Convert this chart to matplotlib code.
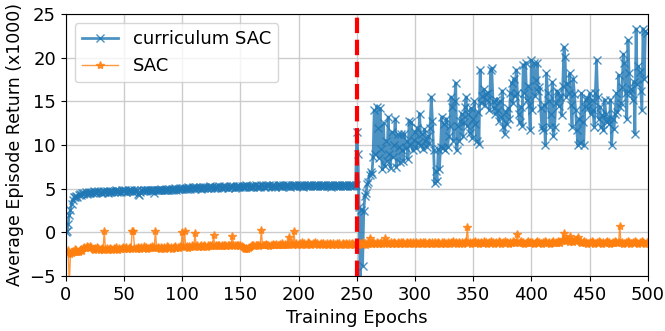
import numpy as np
import matplotlib
matplotlib.use("Agg")
import matplotlib.pyplot as plt

# epochs 0..499
epochs = np.arange(500)

# curriculum SAC average return (x1000)
curriculum_sac = [
    0.0, 0.1, 1.0, 2.0, 2.6, 3.3, 3.7, 4.0, 4.1, 4.2,
    4.1, 4.3, 4.4, 4.3, 4.5, 4.4, 4.5, 4.6, 4.4, 4.5,
    4.6, 4.5, 4.6, 4.5, 4.7, 4.6, 4.5, 4.6, 4.7, 4.6,
    4.6, 4.5, 4.7, 4.6, 4.6, 4.7, 4.5, 4.6, 4.7, 4.6,
    4.7, 4.6, 4.7, 4.8, 4.6, 4.7, 4.7, 4.6, 4.8, 4.7,
    4.7, 4.8, 4.6, 4.7, 4.8, 4.7, 4.8, 4.7, 4.6, 4.8,
    4.7, 4.8, 4.4, 4.3, 4.6, 4.8, 4.7, 4.8, 4.9, 4.7,
    4.8, 4.9, 4.8, 4.7, 4.9, 4.8, 4.5, 4.9, 4.8, 4.9,
    4.8, 4.9, 5.0, 4.8, 4.9, 4.9, 5.0, 4.8, 4.9, 5.0,
    4.9, 5.0, 4.9, 5.0, 5.1, 4.9, 5.0, 5.0, 5.1, 5.0,
    5.0, 5.1, 5.0, 5.1, 5.0, 5.2, 5.1, 5.0, 5.1, 5.2,
    5.1, 5.0, 5.2, 5.1, 5.1, 5.2, 5.0, 5.1, 5.2, 5.1,
    5.2, 5.1, 5.1, 5.2, 5.3, 5.1, 5.2, 5.1, 5.2, 5.2,
    5.1, 5.2, 5.3, 5.2, 5.1, 5.2, 5.3, 5.2, 5.2, 5.1,
    5.2, 5.3, 5.2, 5.2, 5.3, 5.1, 5.2, 5.3, 5.2, 5.3,
    5.2, 5.3, 5.2, 5.3, 5.2, 5.4, 5.3, 5.2, 5.3, 5.2,
    5.3, 5.2, 5.3, 5.4, 5.2, 5.3, 5.3, 5.2, 5.4, 5.3,
    5.3, 5.2, 5.4, 5.3, 5.3, 5.4, 5.2, 5.3, 5.4, 5.3,
    5.2, 5.3, 5.4, 5.3, 5.4, 5.3, 5.2, 5.4, 5.3, 5.4,
    5.3, 5.4, 5.3, 5.2, 5.4, 5.3, 5.4, 5.3, 5.4, 5.3,
    5.4, 5.3, 5.4, 5.3, 5.2, 5.4, 5.3, 5.4, 5.3, 5.4,
    5.3, 5.4, 5.3, 5.4, 5.3, 5.4, 5.3, 5.4, 5.3, 5.4,
    5.3, 5.4, 5.3, 5.4, 5.3, 5.4, 5.3, 5.4, 5.2, 5.4,
    5.3, 5.4, 5.3, 5.4, 5.3, 5.4, 5.3, 5.4, 5.3, 5.4,
    5.3, 5.4, 5.3, 5.4, 5.3, 5.4, 5.3, 5.4, 5.3, 5.4,
    11.5, 9.0, 2.9, -6.5, 2.6, -3.8, 2.5, 4.2, 4.5, 5.5,
    5.8, 6.6, 6.9, 6.7, 8.6, 14.0, 9.0, 14.4, 12.0, 8.5,
    14.2, 9.5, 7.2, 12.5, 7.6, 10.5, 8.2, 13.2, 9.0, 7.4,
    11.5, 8.6, 10.0, 13.0, 7.5, 11.2, 9.8, 8.0, 11.3, 9.4,
    8.2, 11.3, 9.6, 10.4, 8.4, 12.8, 10.0, 12.6, 9.4, 10.6,
    11.5, 9.6, 12.0, 10.2, 13.6, 10.0, 11.2, 9.5, 11.8, 10.4,
    9.8, 11.0, 10.2, 12.0, 15.5, 12.8, 9.4, 5.6, 7.0, 5.9,
    9.5, 7.2, 9.8, 13.2, 9.6, 12.4, 9.4, 13.0, 9.8, 11.0,
    12.2, 15.5, 14.4, 10.5, 15.0, 17.1, 9.4, 12.2, 10.5, 12.8,
    13.6, 11.0, 12.6, 14.4, 15.5, 12.2, 13.5, 11.4, 14.2, 10.8,
    13.0, 15.0, 12.4, 10.5, 13.8, 10.1, 18.6, 14.8, 15.6, 16.4,
    14.6, 15.8, 15.2, 16.0, 14.0, 18.6, 18.8, 15.0, 14.2, 13.6,
    15.2, 14.0, 12.8, 15.0, 13.2, 16.2, 12.1, 11.3, 13.8, 12.4,
    14.2, 13.0, 15.9, 17.1, 14.8, 17.6, 15.6, 18.6, 16.0, 13.6,
    12.6, 14.4, 12.2, 19.2, 16.0, 19.4, 15.2, 16.8, 14.6, 11.7,
    19.7, 14.0, 19.4, 15.6, 17.4, 19.4, 16.2, 16.6, 14.2, 12.1,
    11.7, 14.6, 10.0, 18.2, 16.0, 15.0, 12.1, 13.6, 17.2, 11.0,
    12.1, 14.8, 16.2, 16.0, 14.5, 15.5, 13.4, 16.8, 21.2, 20.1,
    15.5, 17.0, 16.0, 18.2, 14.6, 12.1, 17.6, 15.8, 14.0, 11.7,
    10.0, 13.0, 10.2, 15.9, 12.6, 10.0, 14.4, 15.2, 15.4, 14.2,
    15.9, 13.6, 15.2, 14.0, 12.1, 16.0, 19.7, 15.5, 13.0, 14.4,
    12.1, 13.4, 11.7, 15.2, 13.6, 12.6, 13.0, 12.4, 15.2, 10.0,
    13.0, 11.8, 13.6, 15.9, 13.8, 18.0, 14.4, 14.8, 16.6, 20.4,
    19.4, 16.0, 13.0, 22.0, 18.2, 16.0, 16.4, 15.2, 17.2, 11.3,
    23.3, 17.0, 19.0, 18.4, 16.2, 14.0, 23.3, 17.6, 23.0, 22.8,
]

# plain SAC average return (x1000)
sac = [
    -2.2, -2.3, -2.0, -6.0, -2.5, -2.4, -2.1, -2.2, -1.9, -2.0,
    -2.2, -2.3, -2.0, -1.9, -2.1, -1.8, -1.7, -1.8, -1.6, -1.7,
    -1.8, -1.6, -1.7, -1.9, -2.0, -1.8, -1.9, -1.7, -1.8, -2.0,
    -1.9, -1.8, -2.0, 0.2, -1.9, -1.8, -2.0, -1.9, -1.8, -1.9,
    -2.0, -1.8, -1.9, -1.7, -1.9, -2.0, -1.8, -1.9, -1.8, -1.7,
    -1.9, -1.8, -1.7, -1.9, -1.8, -1.7, -1.9, 0.2, 0.1, -1.8,
    -1.8, -1.9, -1.7, -1.8, -1.9, -1.7, -1.8, -1.6, -1.8, -1.7,
    -1.9, -1.8, -1.7, -1.8, -1.6, -1.8, -1.7, 0.2, -1.8, -1.7,
    -1.8, -1.9, -1.7, -1.8, -1.7, -1.9, -1.8, -1.6, -1.7, -1.8,
    -1.7, -1.9, -1.8, -1.7, -1.6, -1.8, -1.7, -1.8, -1.6, -1.7,
    0.0, -1.6, 0.2, -1.7, -1.6, -1.8, -1.6, -1.7, -1.5, -1.6,
    -1.7, -0.1, -1.6, -1.5, -1.7, -1.6, -1.5, -1.7, -1.6, -1.5,
    -1.6, -1.7, -1.5, -1.6, -1.4, -1.6, -1.5, -0.3, -1.6, -1.5,
    -1.6, -1.5, -1.4, -1.6, -1.5, -1.6, -1.4, -1.5, -1.6, -1.5,
    -1.4, -1.6, -1.5, -0.4, -1.5, -1.4, -1.6, -1.5, -1.4, -1.6,
    -1.5, -1.6, -1.7, -1.8, -1.9, -1.8, -1.9, -1.8, -1.7, -1.6,
    -1.5, -1.4, -1.6, -1.5, -1.4, -1.5, -1.6, -1.4, 0.3, -1.5,
    -1.4, -1.5, -1.3, -1.5, -1.4, -1.6, -1.4, -1.5, -1.3, -1.4,
    -1.5, -1.3, -1.4, -1.5, -1.3, -1.4, -1.2, -1.4, -1.3, -1.5,
    -1.3, -1.4, -0.5, -1.3, -1.2, -1.4, 0.1, -1.3, -1.2, -1.4,
    -1.3, -1.2, -1.4, -1.1, -1.3, -1.2, -1.4, -1.3, -1.1, -1.2,
    -1.3, -1.4, -1.2, -1.3, -1.1, -1.3, -1.2, -1.4, -1.3, -1.2,
    -1.3, -1.2, -1.4, -1.3, -1.2, -1.4, -1.3, -1.2, -1.3, -1.4,
    -1.2, -1.3, -1.4, -1.2, -1.3, -1.2, -1.4, -1.3, -1.2, -1.3,
    -1.4, -1.2, -1.3, -1.2, -1.4, -1.3, -1.2, -1.3, -1.4, -1.3,
    -1.2, -1.3, -1.4, -1.2, -1.3, -1.1, -1.3, -1.2, -1.4, -1.2,
    -1.3, -0.6, -1.2, -1.3, -1.1, -1.2, -1.3, -1.1, -1.2, -1.3,
    -1.2, -1.1, -1.3, -1.2, -0.7, -1.2, -1.1, -1.3, -1.2, -1.1,
    -1.3, -1.2, -1.1, -1.2, -1.3, -1.1, -1.2, -1.3, -1.1, -1.2,
    -1.1, -1.3, -1.2, -1.1, -1.2, -1.3, -1.1, -1.2, -1.1, -1.3,
    -1.2, -1.1, -1.3, -1.2, -1.1, -1.2, -1.3, -1.1, -1.2, -1.1,
    -1.3, -1.2, -1.1, -1.2, -1.3, -1.1, -1.2, -1.1, -1.3, -1.2,
    -1.1, -1.2, -1.3, -1.1, -1.2, -1.1, -1.3, -1.2, -1.1, -1.2,
    -1.3, -1.1, -1.2, -1.0, -1.2, -1.1, -1.3, -1.2, -1.1, -1.2,
    -1.1, -1.3, -1.2, -1.1, -1.0, 0.6, -1.2, -1.1, -1.3, -1.2,
    -1.1, -1.2, -1.0, -1.2, -1.1, -1.3, -1.2, -1.1, -1.2, -1.0,
    -1.2, -1.1, -1.3, -1.2, -1.1, -1.0, -1.2, -1.1, -1.3, -1.2,
    -1.1, -1.2, -1.0, -1.1, -1.3, -1.2, -1.1, -1.0, -1.2, -1.1,
    -1.2, -1.3, -1.1, -1.2, -1.0, -1.1, -1.2, -1.1, -0.2, -1.2,
    -1.1, -1.0, -1.2, -1.1, -1.3, -1.2, -1.1, -1.0, -1.2, -1.1,
    -1.2, -1.1, -1.3, -1.2, -1.1, -1.0, -1.2, -1.1, -1.2, -1.3,
    -1.1, -1.2, -1.0, -1.1, -1.2, -1.1, -1.3, -1.2, -1.1, -1.0,
    -1.2, -1.1, -1.2, -1.0, -1.1, -1.2, -1.0, -0.8, -0.1, -0.9,
    -1.0, -0.8, -1.1, -0.4, -0.9, -1.0, -1.1, -0.9, -1.0, -0.8,
    -0.5, -1.0, -1.1, -1.2, -1.1, -1.0, -1.2, -1.1, -1.3, -1.2,
    -1.1, -1.2, -1.0, -1.1, -1.3, -1.2, -1.1, -1.2, -1.0, -1.1,
    -1.2, -1.3, -1.1, -1.2, -1.1, -1.0, -1.2, -1.1, -1.3, -1.2,
    -1.1, -1.2, -1.0, -1.1, -1.2, -1.1, 0.7, -1.2, -1.1, -1.3,
    -1.2, -1.1, -1.2, -1.0, -1.1, -1.3, -1.2, -1.1, -1.2, -1.0,
    -1.1, -1.2, -1.3, -1.1, -1.2, -1.0, -1.1, -1.2, -1.3, -1.1,
]

switch_epoch = 250

fig, ax = plt.subplots(figsize=(6.65, 3.31), dpi=100)
fig.subplots_adjust(left=0.099, right=0.974, bottom=0.166, top=0.958)

ax.plot(epochs, curriculum_sac, color="tab:blue", marker="x", markersize=6,
        linewidth=2, alpha=0.8, label="curriculum SAC")
ax.plot(epochs, sac, color="tab:orange", marker="*", markersize=6,
        linewidth=1, alpha=0.8, label="SAC")
ax.axvline(switch_epoch, color="red", linestyle="--", linewidth=3)

ax.set_xlim(0, 500)
ax.set_ylim(-5, 25)
ax.set_xticks(range(0, 501, 50))
ax.set_yticks(range(-5, 26, 5))
ax.tick_params(labelsize=13)
ax.set_xlabel("Training Epochs", fontsize=13)
ax.set_ylabel("Average Episode Return (x1000)", fontsize=12.5)
ax.grid(True, color="#cccccc", linewidth=1)
ax.legend(loc="upper left", fontsize=13)

fig.savefig("out.png", dpi=100)
